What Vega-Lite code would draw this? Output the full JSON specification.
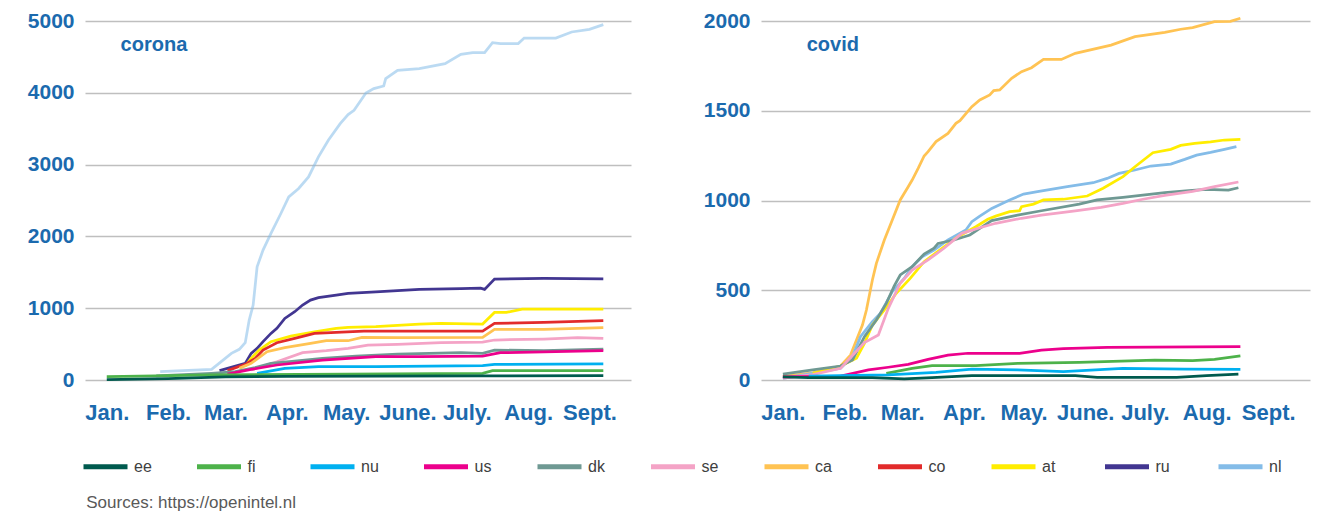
{
"$schema": "https://vega.github.io/schema/vega-lite/v6.json",
"background": "white",
"padding": {"left": 27, "top": 10, "right": 5, "bottom": 5},
"spacing": 72,
"config": {
  "view": {"stroke": null},
  "axis": {"domain": false, "ticks": false, "title": null, "labelFont": "Liberation Sans", "labelFontWeight": "bold", "labelColor": "#1B6AAE", "gridColor": "#BFBFBF", "gridWidth": 1.5},
  "axisX": {"grid": false, "labelPadding": 22, "labelFontSize": 22},
  "axisY": {"grid": true, "labelPadding": 11, "labelFontSize": 21, "format": "d"}
},
"title": {"text": "Sources:  https://openintel.nl", "orient": "bottom", "anchor": "start", "font": "Liberation Sans", "fontSize": 17, "fontWeight": "normal", "color": "#595959", "offset": 18, "dx": 59},
"datasets": {
"corona": [
{"c":"nl","d":"2020-01-28","v":116},{"c":"nl","d":"2020-02-23","v":148},{"c":"nl","d":"2020-03-04","v":371},{"c":"nl","d":"2020-03-08","v":427},{"c":"nl","d":"2020-03-11","v":520},{"c":"nl","d":"2020-03-13","v":835},{"c":"nl","d":"2020-03-15","v":1044},{"c":"nl","d":"2020-03-17","v":1577},{"c":"nl","d":"2020-03-20","v":1809},{"c":"nl","d":"2020-03-24","v":2041},{"c":"nl","d":"2020-03-29","v":2319},{"c":"nl","d":"2020-04-02","v":2551},{"c":"nl","d":"2020-04-07","v":2667},{"c":"nl","d":"2020-04-12","v":2829},{"c":"nl","d":"2020-04-17","v":3108},{"c":"nl","d":"2020-04-22","v":3340},{"c":"nl","d":"2020-04-28","v":3571},{"c":"nl","d":"2020-05-02","v":3697},{"c":"nl","d":"2020-05-05","v":3757},{"c":"nl","d":"2020-05-11","v":3998},{"c":"nl","d":"2020-05-15","v":4058},{"c":"nl","d":"2020-05-20","v":4095},{"c":"nl","d":"2020-05-21","v":4198},{"c":"nl","d":"2020-05-27","v":4314},{"c":"nl","d":"2020-06-07","v":4337},{"c":"nl","d":"2020-06-20","v":4406},{"c":"nl","d":"2020-06-28","v":4536},{"c":"nl","d":"2020-07-04","v":4559},{"c":"nl","d":"2020-07-10","v":4559},{"c":"nl","d":"2020-07-14","v":4698},{"c":"nl","d":"2020-07-18","v":4685},{"c":"nl","d":"2020-07-27","v":4685},{"c":"nl","d":"2020-07-30","v":4763},{"c":"nl","d":"2020-08-15","v":4763},{"c":"nl","d":"2020-08-23","v":4847},{"c":"nl","d":"2020-09-01","v":4884},{"c":"nl","d":"2020-09-08","v":4949},
{"c":"ru","d":"2020-02-27","v":130},{"c":"ru","d":"2020-03-11","v":232},{"c":"ru","d":"2020-03-14","v":371},{"c":"ru","d":"2020-03-17","v":441},{"c":"ru","d":"2020-03-20","v":534},{"c":"ru","d":"2020-03-24","v":649},{"c":"ru","d":"2020-03-27","v":719},{"c":"ru","d":"2020-03-31","v":858},{"c":"ru","d":"2020-04-05","v":951},{"c":"ru","d":"2020-04-09","v":1044},{"c":"ru","d":"2020-04-13","v":1113},{"c":"ru","d":"2020-04-17","v":1146},{"c":"ru","d":"2020-04-26","v":1183},{"c":"ru","d":"2020-05-02","v":1206},{"c":"ru","d":"2020-05-16","v":1229},{"c":"ru","d":"2020-06-07","v":1262},{"c":"ru","d":"2020-06-28","v":1271},{"c":"ru","d":"2020-07-08","v":1280},{"c":"ru","d":"2020-07-10","v":1262},{"c":"ru","d":"2020-07-15","v":1405},{"c":"ru","d":"2020-08-09","v":1415},{"c":"ru","d":"2020-09-08","v":1410},
{"c":"at","d":"2020-03-11","v":195},{"c":"at","d":"2020-03-14","v":301},{"c":"at","d":"2020-03-18","v":417},{"c":"at","d":"2020-03-24","v":534},{"c":"at","d":"2020-04-03","v":612},{"c":"at","d":"2020-04-15","v":672},{"c":"at","d":"2020-04-26","v":719},{"c":"at","d":"2020-05-02","v":733},{"c":"at","d":"2020-05-16","v":742},{"c":"at","d":"2020-06-07","v":779},{"c":"at","d":"2020-06-18","v":789},{"c":"at","d":"2020-07-09","v":779},{"c":"at","d":"2020-07-15","v":941},{"c":"at","d":"2020-07-21","v":941},{"c":"at","d":"2020-07-29","v":988},{"c":"at","d":"2020-09-08","v":988},
{"c":"co","d":"2020-03-02","v":130},{"c":"co","d":"2020-03-11","v":218},{"c":"co","d":"2020-03-16","v":301},{"c":"co","d":"2020-03-20","v":417},{"c":"co","d":"2020-03-27","v":519},{"c":"co","d":"2020-04-05","v":580},{"c":"co","d":"2020-04-15","v":649},{"c":"co","d":"2020-04-26","v":663},{"c":"co","d":"2020-05-10","v":682},{"c":"co","d":"2020-06-07","v":682},{"c":"co","d":"2020-07-09","v":682},{"c":"co","d":"2020-07-15","v":789},{"c":"co","d":"2020-08-09","v":802},{"c":"co","d":"2020-09-08","v":826},
{"c":"ca","d":"2020-03-08","v":162},{"c":"ca","d":"2020-03-14","v":232},{"c":"ca","d":"2020-03-22","v":394},{"c":"ca","d":"2020-03-31","v":450},{"c":"ca","d":"2020-04-13","v":510},{"c":"ca","d":"2020-04-21","v":547},{"c":"ca","d":"2020-05-02","v":547},{"c":"ca","d":"2020-05-09","v":594},{"c":"ca","d":"2020-05-27","v":589},{"c":"ca","d":"2020-07-09","v":594},{"c":"ca","d":"2020-07-15","v":705},{"c":"ca","d":"2020-08-09","v":705},{"c":"ca","d":"2020-09-08","v":728},
{"c":"se","d":"2020-03-14","v":139},{"c":"se","d":"2020-03-27","v":255},{"c":"se","d":"2020-04-09","v":380},{"c":"se","d":"2020-04-21","v":408},{"c":"se","d":"2020-05-02","v":441},{"c":"se","d":"2020-05-12","v":487},{"c":"se","d":"2020-05-27","v":496},{"c":"se","d":"2020-06-18","v":519},{"c":"se","d":"2020-07-09","v":529},{"c":"se","d":"2020-07-15","v":557},{"c":"se","d":"2020-08-09","v":571},{"c":"se","d":"2020-08-26","v":589},{"c":"se","d":"2020-09-08","v":580},
{"c":"dk","d":"2020-01-26","v":56},{"c":"dk","d":"2020-02-23","v":93},{"c":"dk","d":"2020-03-06","v":116},{"c":"dk","d":"2020-03-16","v":172},{"c":"dk","d":"2020-03-24","v":232},{"c":"dk","d":"2020-04-05","v":264},{"c":"dk","d":"2020-04-19","v":301},{"c":"dk","d":"2020-05-06","v":334},{"c":"dk","d":"2020-05-27","v":362},{"c":"dk","d":"2020-06-28","v":380},{"c":"dk","d":"2020-07-09","v":371},{"c":"dk","d":"2020-07-15","v":417},{"c":"dk","d":"2020-08-09","v":408},{"c":"dk","d":"2020-09-08","v":431},
{"c":"us","d":"2020-03-02","v":83},{"c":"us","d":"2020-03-14","v":148},{"c":"us","d":"2020-03-27","v":209},{"c":"us","d":"2020-04-19","v":278},{"c":"us","d":"2020-05-16","v":325},{"c":"us","d":"2020-06-07","v":325},{"c":"us","d":"2020-07-09","v":334},{"c":"us","d":"2020-07-18","v":380},{"c":"us","d":"2020-09-08","v":408},
{"c":"nu","d":"2020-03-17","v":93},{"c":"nu","d":"2020-03-31","v":162},{"c":"nu","d":"2020-04-17","v":186},{"c":"nu","d":"2020-05-16","v":186},{"c":"nu","d":"2020-07-09","v":199},{"c":"nu","d":"2020-07-15","v":218},{"c":"nu","d":"2020-09-08","v":223},
{"c":"fi","d":"2020-01-01","v":46},{"c":"fi","d":"2020-01-26","v":56},{"c":"fi","d":"2020-02-23","v":70},{"c":"fi","d":"2020-07-09","v":93},{"c":"fi","d":"2020-07-14","v":130},{"c":"fi","d":"2020-09-08","v":130},
{"c":"ee","d":"2020-01-01","v":5},{"c":"ee","d":"2020-02-01","v":20},{"c":"ee","d":"2020-03-01","v":45},{"c":"ee","d":"2020-04-01","v":52},{"c":"ee","d":"2020-07-09","v":58},{"c":"ee","d":"2020-09-08","v":62}
],
"covid": [
{"c":"ca","d":"2020-01-01","v":20},{"c":"ca","d":"2020-01-16","v":40},{"c":"ca","d":"2020-01-30","v":78},{"c":"ca","d":"2020-02-04","v":139},{"c":"ca","d":"2020-02-07","v":223},{"c":"ca","d":"2020-02-10","v":306},{"c":"ca","d":"2020-02-12","v":390},{"c":"ca","d":"2020-02-15","v":557},{"c":"ca","d":"2020-02-17","v":650},{"c":"ca","d":"2020-02-21","v":780},{"c":"ca","d":"2020-02-25","v":891},{"c":"ca","d":"2020-02-29","v":1003},{"c":"ca","d":"2020-03-04","v":1077},{"c":"ca","d":"2020-03-06","v":1114},{"c":"ca","d":"2020-03-09","v":1179},{"c":"ca","d":"2020-03-12","v":1248},{"c":"ca","d":"2020-03-14","v":1272},{"c":"ca","d":"2020-03-18","v":1328},{"c":"ca","d":"2020-03-24","v":1374},{"c":"ca","d":"2020-03-28","v":1430},{"c":"ca","d":"2020-03-30","v":1445},{"c":"ca","d":"2020-04-05","v":1523},{"c":"ca","d":"2020-04-09","v":1560},{"c":"ca","d":"2020-04-14","v":1588},{"c":"ca","d":"2020-04-16","v":1612},{"c":"ca","d":"2020-04-19","v":1616},{"c":"ca","d":"2020-04-25","v":1681},{"c":"ca","d":"2020-04-30","v":1718},{"c":"ca","d":"2020-05-05","v":1740},{"c":"ca","d":"2020-05-11","v":1786},{"c":"ca","d":"2020-05-20","v":1786},{"c":"ca","d":"2020-05-27","v":1820},{"c":"ca","d":"2020-06-14","v":1866},{"c":"ca","d":"2020-06-26","v":1913},{"c":"ca","d":"2020-07-11","v":1937},{"c":"ca","d":"2020-07-19","v":1954},{"c":"ca","d":"2020-07-25","v":1963},{"c":"ca","d":"2020-08-05","v":1996},{"c":"ca","d":"2020-08-13","v":1998},{"c":"ca","d":"2020-08-18","v":2015},
{"c":"nl","d":"2020-01-01","v":9},{"c":"nl","d":"2020-01-16","v":37},{"c":"nl","d":"2020-01-30","v":65},{"c":"nl","d":"2020-02-05","v":130},{"c":"nl","d":"2020-02-09","v":241},{"c":"nl","d":"2020-02-15","v":325},{"c":"nl","d":"2020-02-19","v":371},{"c":"nl","d":"2020-02-25","v":492},{"c":"nl","d":"2020-03-02","v":566},{"c":"nl","d":"2020-03-06","v":631},{"c":"nl","d":"2020-03-11","v":687},{"c":"nl","d":"2020-03-17","v":724},{"c":"nl","d":"2020-03-24","v":780},{"c":"nl","d":"2020-04-02","v":836},{"c":"nl","d":"2020-04-05","v":882},{"c":"nl","d":"2020-04-09","v":913},{"c":"nl","d":"2020-04-15","v":956},{"c":"nl","d":"2020-04-24","v":1003},{"c":"nl","d":"2020-05-01","v":1036},{"c":"nl","d":"2020-05-08","v":1049},{"c":"nl","d":"2020-05-23","v":1077},{"c":"nl","d":"2020-06-05","v":1099},{"c":"nl","d":"2020-06-12","v":1123},{"c":"nl","d":"2020-06-18","v":1151},{"c":"nl","d":"2020-06-26","v":1170},{"c":"nl","d":"2020-07-04","v":1192},{"c":"nl","d":"2020-07-14","v":1203},{"c":"nl","d":"2020-07-21","v":1229},{"c":"nl","d":"2020-07-27","v":1253},{"c":"nl","d":"2020-08-03","v":1268},{"c":"nl","d":"2020-08-10","v":1285},{"c":"nl","d":"2020-08-16","v":1300},
{"c":"at","d":"2020-01-16","v":37},{"c":"at","d":"2020-01-30","v":78},{"c":"at","d":"2020-02-07","v":121},{"c":"at","d":"2020-02-11","v":204},{"c":"at","d":"2020-02-15","v":306},{"c":"at","d":"2020-02-21","v":390},{"c":"at","d":"2020-02-27","v":483},{"c":"at","d":"2020-03-05","v":566},{"c":"at","d":"2020-03-12","v":659},{"c":"at","d":"2020-03-21","v":734},{"c":"at","d":"2020-03-29","v":798},{"c":"at","d":"2020-04-07","v":854},{"c":"at","d":"2020-04-13","v":895},{"c":"at","d":"2020-04-17","v":913},{"c":"at","d":"2020-04-24","v":938},{"c":"at","d":"2020-04-29","v":943},{"c":"at","d":"2020-04-30","v":966},{"c":"at","d":"2020-05-06","v":980},{"c":"at","d":"2020-05-11","v":1003},{"c":"at","d":"2020-05-21","v":1007},{"c":"at","d":"2020-06-02","v":1025},{"c":"at","d":"2020-06-10","v":1068},{"c":"at","d":"2020-06-20","v":1133},{"c":"at","d":"2020-06-26","v":1188},{"c":"at","d":"2020-07-05","v":1266},{"c":"at","d":"2020-07-14","v":1285},{"c":"at","d":"2020-07-19","v":1307},{"c":"at","d":"2020-07-26","v":1318},{"c":"at","d":"2020-08-03","v":1326},{"c":"at","d":"2020-08-10","v":1337},{"c":"at","d":"2020-08-18","v":1341},
{"c":"dk","d":"2020-01-01","v":33},{"c":"dk","d":"2020-01-16","v":56},{"c":"dk","d":"2020-01-30","v":78},{"c":"dk","d":"2020-02-05","v":111},{"c":"dk","d":"2020-02-11","v":241},{"c":"dk","d":"2020-02-17","v":334},{"c":"dk","d":"2020-02-22","v":427},{"c":"dk","d":"2020-02-26","v":524},{"c":"dk","d":"2020-02-29","v":585},{"c":"dk","d":"2020-03-06","v":631},{"c":"dk","d":"2020-03-12","v":702},{"c":"dk","d":"2020-03-17","v":734},{"c":"dk","d":"2020-03-19","v":761},{"c":"dk","d":"2020-03-27","v":780},{"c":"dk","d":"2020-04-04","v":808},{"c":"dk","d":"2020-04-09","v":845},{"c":"dk","d":"2020-04-15","v":888},{"c":"dk","d":"2020-04-28","v":919},{"c":"dk","d":"2020-05-10","v":943},{"c":"dk","d":"2020-05-29","v":980},{"c":"dk","d":"2020-06-07","v":1003},{"c":"dk","d":"2020-06-20","v":1018},{"c":"dk","d":"2020-07-11","v":1044},{"c":"dk","d":"2020-07-23","v":1055},{"c":"dk","d":"2020-08-01","v":1062},{"c":"dk","d":"2020-08-12","v":1058},{"c":"dk","d":"2020-08-17","v":1071},
{"c":"se","d":"2020-01-01","v":10},{"c":"se","d":"2020-01-16","v":30},{"c":"se","d":"2020-01-30","v":65},{"c":"se","d":"2020-02-06","v":149},{"c":"se","d":"2020-02-11","v":208},{"c":"se","d":"2020-02-18","v":251},{"c":"se","d":"2020-02-23","v":399},{"c":"se","d":"2020-02-29","v":539},{"c":"se","d":"2020-03-06","v":613},{"c":"se","d":"2020-03-14","v":669},{"c":"se","d":"2020-03-22","v":734},{"c":"se","d":"2020-03-31","v":817},{"c":"se","d":"2020-04-09","v":848},{"c":"se","d":"2020-04-17","v":873},{"c":"se","d":"2020-04-30","v":901},{"c":"se","d":"2020-05-10","v":919},{"c":"se","d":"2020-05-27","v":942},{"c":"se","d":"2020-06-09","v":962},{"c":"se","d":"2020-06-20","v":984},{"c":"se","d":"2020-06-30","v":1007},{"c":"se","d":"2020-07-11","v":1029},{"c":"se","d":"2020-07-25","v":1051},{"c":"se","d":"2020-08-05","v":1077},{"c":"se","d":"2020-08-17","v":1103},
{"c":"us","d":"2020-01-01","v":18},{"c":"us","d":"2020-01-30","v":22},{"c":"us","d":"2020-02-13","v":56},{"c":"us","d":"2020-02-23","v":71},{"c":"us","d":"2020-03-04","v":87},{"c":"us","d":"2020-03-14","v":115},{"c":"us","d":"2020-03-24","v":139},{"c":"us","d":"2020-04-03","v":149},{"c":"us","d":"2020-04-29","v":149},{"c":"us","d":"2020-05-10","v":167},{"c":"us","d":"2020-05-21","v":175},{"c":"us","d":"2020-06-12","v":182},{"c":"us","d":"2020-08-18","v":186},
{"c":"fi","d":"2020-02-22","v":37},{"c":"fi","d":"2020-03-06","v":65},{"c":"fi","d":"2020-03-16","v":80},{"c":"fi","d":"2020-04-07","v":80},{"c":"fi","d":"2020-04-28","v":93},{"c":"fi","d":"2020-05-29","v":98},{"c":"fi","d":"2020-07-06","v":111},{"c":"fi","d":"2020-07-25","v":108},{"c":"fi","d":"2020-08-05","v":115},{"c":"fi","d":"2020-08-18","v":134},
{"c":"nu","d":"2020-01-14","v":22},{"c":"nu","d":"2020-02-23","v":28},{"c":"nu","d":"2020-03-18","v":43},{"c":"nu","d":"2020-04-05","v":61},{"c":"nu","d":"2020-04-28","v":56},{"c":"nu","d":"2020-05-21","v":46},{"c":"nu","d":"2020-06-20","v":65},{"c":"nu","d":"2020-07-21","v":61},{"c":"nu","d":"2020-08-18","v":59},
{"c":"ee","d":"2020-01-01","v":18},{"c":"ee","d":"2020-01-14","v":13},{"c":"ee","d":"2020-02-15","v":13},{"c":"ee","d":"2020-03-02","v":6},{"c":"ee","d":"2020-03-16","v":13},{"c":"ee","d":"2020-04-05","v":24},{"c":"ee","d":"2020-05-27","v":24},{"c":"ee","d":"2020-06-07","v":15},{"c":"ee","d":"2020-07-17","v":15},{"c":"ee","d":"2020-08-01","v":24},{"c":"ee","d":"2020-08-17","v":33}
]
},
"hconcat": [
{
  "width": 546, "height": 359,
  "layer": [
    {
      "data": {"name": "corona"},
      "mark": {"type": "line", "strokeWidth": 2.75},
      "encoding": {
        "x": {"field": "d", "type": "temporal", "scale": {"type": "utc", "domain": [{"year": 2019, "month": 12, "date": 21, "utc": true}, {"year": 2020, "month": 9, "date": 22, "utc": true}]}, "axis": {"tickCount": {"interval": "month", "step": 1}, "labelExpr": "['Jan.','Feb.','Mar.','Apr.','May.','June.','July.','Aug.','Sept.','Oct.','Nov.','Dec.'][utcmonth(datum.value)]"}},
        "y": {"field": "v", "type": "quantitative", "scale": {"domain": [0, 5000]}, "axis": {"values": [0, 1000, 2000, 3000, 4000, 5000]}},
        "color": {"field": "c", "type": "nominal", "scale": {"domain": ["ee","fi","nu","us","dk","se","ca","co","at","ru","nl"], "range": ["#005A4E","#4DB24A","#00B0F0","#EC008C","#6F9993","#F4A3C6","#FFC353","#E22B2B","#FFED00","#423691","#84BCE8"]},
          "legend": {"orient": "none", "legendX": -4, "legendY": 421, "direction": "horizontal", "columns": 11, "gridAlign": "all", "columnPadding": 34.5, "symbolType": "stroke", "symbolSize": 1936, "symbolStrokeWidth": 5, "labelFont": "Liberation Sans", "labelFontSize": 16, "labelColor": "#404040", "labelOffset": 4, "title": null}},
        "opacity": {"condition": {"test": "datum.c === 'nl'", "value": 0.55}, "value": 1}
      }
    },
    {
      "data": {"values": [{"label": "corona", "d": "2020-01-08", "v": 4666}]},
      "mark": {"type": "text", "align": "left", "baseline": "middle", "font": "Liberation Sans", "fontSize": 20, "fontWeight": "bold", "color": "#1B6AAE"},
      "encoding": {
        "x": {"field": "d", "type": "temporal"},
        "y": {"field": "v", "type": "quantitative"},
        "text": {"field": "label"}
      }
    }
  ]
},
{
  "width": 549, "height": 359,
  "layer": [
    {
      "data": {"name": "covid"},
      "mark": {"type": "line", "strokeWidth": 2.75},
      "encoding": {
        "x": {"field": "d", "type": "temporal", "scale": {"type": "utc", "domain": [{"year": 2019, "month": 12, "date": 21, "utc": true}, {"year": 2020, "month": 9, "date": 22, "utc": true}]}, "axis": {"tickCount": {"interval": "month", "step": 1}, "labelExpr": "['Jan.','Feb.','Mar.','Apr.','May.','June.','July.','Aug.','Sept.','Oct.','Nov.','Dec.'][utcmonth(datum.value)]"}},
        "y": {"field": "v", "type": "quantitative", "scale": {"domain": [0, 2000]}, "axis": {"values": [0, 500, 1000, 1500, 2000]}},
        "color": {"field": "c", "type": "nominal", "scale": {"domain": ["ee","fi","nu","us","dk","se","ca","co","at","ru","nl"], "range": ["#005A4E","#4DB24A","#00B0F0","#EC008C","#6F9993","#F4A3C6","#FFC353","#E22B2B","#FFED00","#423691","#84BCE8"]},
          "legend": {"orient": "none", "legendX": -4, "legendY": 421, "direction": "horizontal", "columns": 11, "gridAlign": "all", "columnPadding": 34.5, "symbolType": "stroke", "symbolSize": 1936, "symbolStrokeWidth": 5, "labelFont": "Liberation Sans", "labelFontSize": 16, "labelColor": "#404040", "labelOffset": 4, "title": null}}
      }
    },
    {
      "data": {"values": [{"label": "covid", "d": "2020-01-13", "v": 1866}]},
      "mark": {"type": "text", "align": "left", "baseline": "middle", "font": "Liberation Sans", "fontSize": 20, "fontWeight": "bold", "color": "#1B6AAE"},
      "encoding": {
        "x": {"field": "d", "type": "temporal"},
        "y": {"field": "v", "type": "quantitative"},
        "text": {"field": "label"}
      }
    }
  ]
}
],
"resolve": {"scale": {"color": "shared"}}
}
